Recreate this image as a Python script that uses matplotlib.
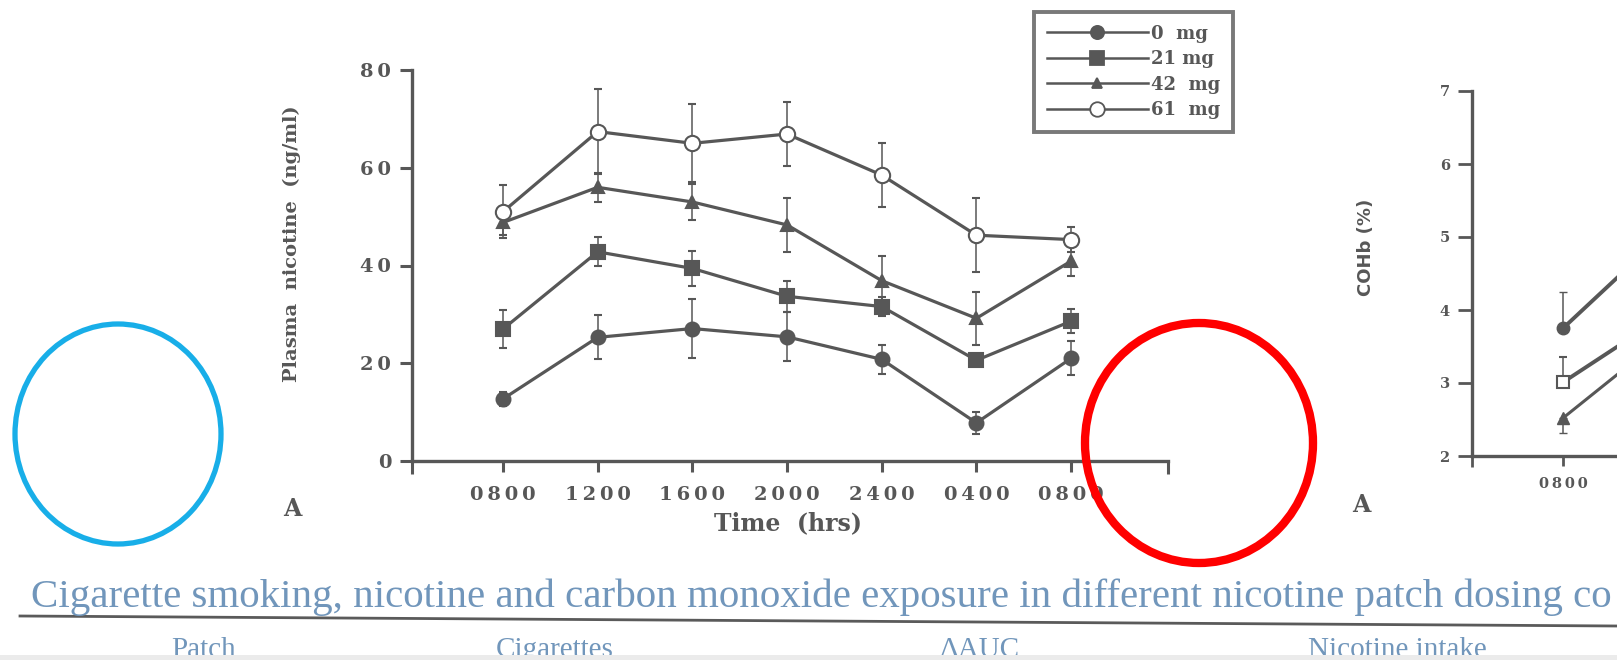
import matplotlib
matplotlib.use('Agg')
import matplotlib.pyplot as plt
from matplotlib.patches import Ellipse, Rectangle
from matplotlib.lines import Line2D

# time points (x axis)
times = ['0800', '1200', '1600', '2000', '2400', '0400', '0800']

# plasma nicotine (ng/ml), mean and error per patch dose
nic_0mg = [12.7, 25.3, 27.1, 25.4, 20.8, 7.8, 21.0]
nic_0mg_err = [1.5, 4.5, 6.0, 5.0, 3.0, 2.2, 3.5]
nic_21mg = [27.0, 42.8, 39.4, 33.7, 31.6, 20.6, 28.6]
nic_21mg_err = [3.8, 3.0, 3.5, 3.2, 2.0, 1.0, 2.5]
nic_42mg = [48.8, 56.0, 53.0, 48.3, 36.9, 29.2, 40.9]
nic_42mg_err = [2.5, 3.0, 3.6, 5.5, 5.1, 5.4, 3.0]
nic_61mg = [51.0, 67.4, 65.0, 66.9, 58.5, 46.2, 45.3]
nic_61mg_err = [5.4, 8.7, 8.0, 6.6, 6.5, 7.6, 2.6]

# right panel (COHb %), only the first points are visible on the page
cohb_0mg = [3.75, 4.96]
cohb_0mg_err = [0.5, 0.0]
cohb_21mg = [3.01, 3.86]
cohb_21mg_err = [0.35, 0.0]
cohb_42mg = [2.52, 3.56]
cohb_42mg_err = [0.21, 0.0]

legend_labels = ['0  mg', '21 mg', '42  mg', '61  mg']
# caption as far as it is visible on the page
caption = ('Cigarette smoking, nicotine and carbon monoxide exposure in '
           'different nicotine patch dosing co')
headers = ['Patch', 'Cigarettes', '\u0394AUC', 'Nicotine intake']

ink = '#575757'
blue_text = '#7196bb'
W, H = 1617, 660


def spaced(s):
    return '\u2009'.join(s)


fig = plt.figure(figsize=(W / 100, H / 100), dpi=100)
fig.patch.set_facecolor('white')

# ---------- left panel: plasma nicotine ----------
ax = fig.add_axes([412 / W, 1 - 461 / H, 756 / W, 391 / H])
ax.set_xlim(-0.961, 7.024)
ax.set_ylim(0, 80)
x = list(range(len(times)))

styles = [
    (nic_0mg, nic_0mg_err, dict(marker='o', ms=10, mfc=ink)),
    (nic_21mg, nic_21mg_err, dict(marker='s', ms=10, mfc=ink)),
    (nic_42mg, nic_42mg_err, dict(marker='^', ms=8, mfc=ink)),
    (nic_61mg, nic_61mg_err, dict(marker='o', ms=11, mfc='white')),
]
for vals, errs, st in styles:
    ax.errorbar(x, vals, yerr=errs, color=ink, lw=2.3, elinewidth=1.1,
                capsize=3, capthick=1.1, mec=ink, mew=1.5, **st)

for side in ['top', 'right']:
    ax.spines[side].set_visible(False)
for side in ['left', 'bottom']:
    ax.spines[side].set_linewidth(2.4)
    ax.spines[side].set_color(ink)

ax.set_yticks([0, 20, 40, 60, 80])
ax.set_yticklabels(['0', spaced('20'), spaced('40'), spaced('60'), spaced('80')])
ax.set_xticks(x)
ax.set_xticklabels([spaced(t) for t in times])
ax.set_xticks([-0.961, 7.024], minor=True)
ax.tick_params(axis='both', which='both', direction='out', color=ink,
               width=2.2, labelcolor=ink)
ax.tick_params(axis='y', length=9, pad=6)
ax.tick_params(axis='x', which='major', length=8, pad=10)
ax.tick_params(axis='x', which='minor', length=9)
for lab in ax.get_xticklabels() + ax.get_yticklabels():
    lab.set_fontfamily('DejaVu Serif')
    lab.set_fontweight('bold')
    lab.set_fontsize(14)

fig.text(292 / W, 1 - 244 / H, 'Plasma  nicotine  (ng/ml)', rotation=90,
         ha='center', va='center', fontsize=14, fontweight='bold',
         family='DejaVu Serif', color=ink)
fig.text(788 / W, 1 - 523 / H, 'Time  (hrs)', ha='center', va='center',
         fontsize=17, fontweight='bold', family='DejaVu Serif', color=ink)
fig.text(292 / W, 1 - 509 / H, 'A', ha='center', va='center', fontsize=17,
         fontweight='bold', family='DejaVu Serif', color=ink)

handles = [Line2D([], [], color=ink, lw=1.8, mec=ink, mew=1.3, **st)
           for _, _, st in styles]
for h in handles:
    h.set_markersize(h.get_markersize() * 0.95)
leg = fig.legend(handles, legend_labels, loc='upper left',
                 bbox_to_anchor=(1034 / W, 1 - 12 / H), frameon=True,
                 fancybox=False, handlelength=5.6, handletextpad=0.2,
                 labelspacing=0.42, borderpad=0.7, borderaxespad=0,
                 prop={'family': 'DejaVu Serif', 'weight': 'bold', 'size': 13})
leg.get_frame().set_edgecolor(ink)
leg.get_frame().set_linewidth(2.8)
for t in leg.get_texts():
    t.set_color(ink)

# ---------- right panel: COHb, cut by the page edge ----------
ax2 = fig.add_axes([1472 / W, 1 - 456 / H, 756 / W, 365 / H])
ax2.set_xlim(-0.961, 7.024)
ax2.set_ylim(2, 7)
x2 = [0, 1]
ax2.errorbar(x2, cohb_0mg, yerr=[[0, 0], cohb_0mg_err], color=ink, lw=2.8,
             elinewidth=1.1, capsize=3, marker='o', ms=9, mfc=ink, mec=ink)
ax2.errorbar(x2, cohb_21mg, yerr=[[0, 0], cohb_21mg_err], color=ink, lw=2.8,
             elinewidth=1.1, capsize=3, marker='s', ms=9, mfc='white',
             mec=ink, mew=1.5, zorder=4)
ax2.errorbar(x2, cohb_42mg, yerr=[cohb_42mg_err, [0, 0]], color=ink, lw=2.2,
             elinewidth=1.1, capsize=3, marker='^', ms=8, mfc=ink, mec=ink)
for side in ['top', 'right']:
    ax2.spines[side].set_visible(False)
for side in ['left', 'bottom']:
    ax2.spines[side].set_linewidth(2.4)
    ax2.spines[side].set_color(ink)
ax2.set_yticks([2, 3, 4, 5, 6, 7])
ax2.set_xticks([0])
ax2.set_xticklabels([spaced('0800')])
ax2.set_xticks([-0.961], minor=True)
ax2.tick_params(axis='both', which='both', direction='out', color=ink,
                width=2.0, labelcolor=ink)
ax2.tick_params(axis='y', length=10, pad=6)
ax2.tick_params(axis='x', which='major', length=7, pad=8)
ax2.tick_params(axis='x', which='minor', length=8)
for lab in ax2.get_xticklabels() + ax2.get_yticklabels():
    lab.set_fontfamily('DejaVu Serif')
    lab.set_fontweight('bold')
    lab.set_fontsize(10.5)
fig.text(1366 / W, 1 - 247 / H, 'COHb (%)', rotation=90, ha='center',
         va='center', fontsize=13, fontweight='bold', family='DejaVu Sans',
         color=ink)
fig.text(1361 / W, 1 - 505 / H, 'A', ha='center', va='center', fontsize=17,
         fontweight='bold', family='DejaVu Serif', color=ink)

# ---------- page text below the figure ----------
fig.text(31 / W, 1 - 597 / H, caption, ha='left', va='center', fontsize=29.5,
         family='Liberation Serif', color=blue_text)
fig.add_artist(Line2D([20 / W, 1.0], [1 - 616 / H, 1 - 626 / H],
                      transform=fig.transFigure, color='#5a5a5a', lw=2.0))
for hx, ht in zip([203, 555, 980, 1397], headers):
    fig.text(hx / W, 1 - 650 / H, ht, ha='center', va='center', fontsize=21,
             family='Liberation Serif', color=blue_text)
fig.add_artist(Rectangle((0, 0), 1, 5 / H, transform=fig.transFigure,
                         facecolor='#ebebeb', edgecolor='none', zorder=10))

# ---------- annotation circles ----------
fig.add_artist(Ellipse((118 / W, 1 - 434 / H), 2 * 103 / W, 2 * 110 / H,
                       transform=fig.transFigure, fill=False,
                       edgecolor='#18aee8', lw=3.8, zorder=11))
fig.add_artist(Ellipse((1199 / W, 1 - 443 / H), 2 * 114 / W, 2 * 120 / H,
                       transform=fig.transFigure, fill=False,
                       edgecolor='#ff0000', lw=6.0, zorder=11))

fig.savefig('out.png', dpi=100)
